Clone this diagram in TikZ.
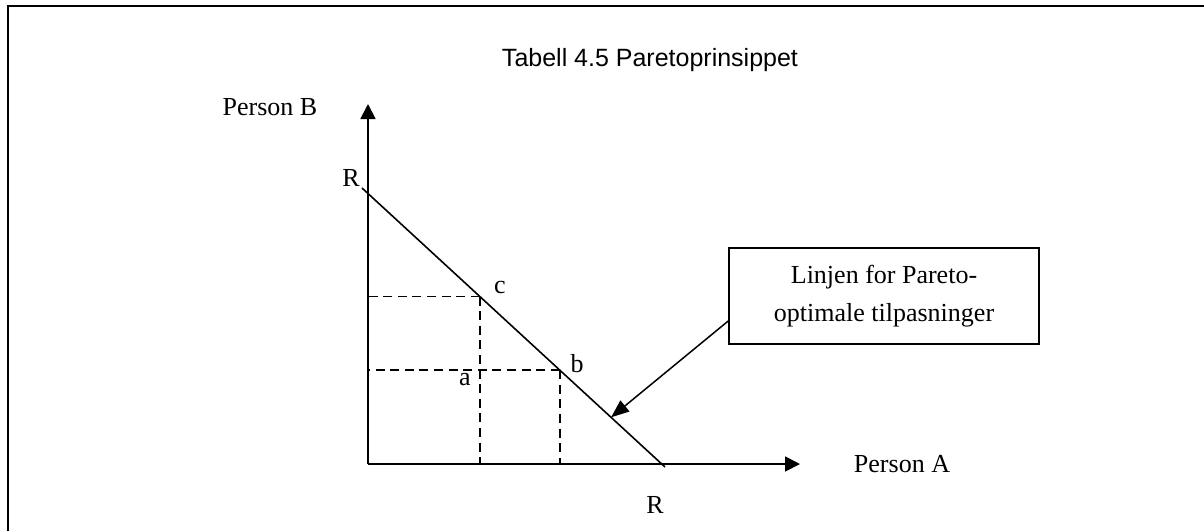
\documentclass[tikz,border=0pt]{standalone}
\usepackage{fontspec}
\setmainfont{Liberation Serif}
\newfontfamily\arialfont{Liberation Sans}
\usetikzlibrary{arrows.meta,calc}
\tikzset{
  lbl/.style={font=\fontsize{13}{19}\selectfont, inner sep=0pt, anchor=base},
  akse/.style={line width=0.9pt, -{Triangle[length=7.5pt,width=7.5pt]}},
  hjelp/.style={line width=0.75pt, dash pattern=on 4.5pt off 2.8pt},
  pil/.style={line width=0.75pt, -{Triangle[length=9pt,width=7pt]}},
}

\begin{document}
\begin{tikzpicture}[x=0.5pt, y=-0.5pt]
\useasboundingbox (0,0) rectangle (1204,531);
\draw[line width=1.1pt] (8,531) -- (8,6) -- (1204,6);
\node[lbl, font=\arialfont\fontsize{12.5}{15}\selectfont] (tittel) at (650,66) {Tabell 4.5 Paretoprinsippet};
% akser
\coordinate (O) at (368,464);
\coordinate (ytopp) at (368,104);
\coordinate (xende) at (800,464);
\draw[akse] (O) -- (ytopp);
\draw[akse] (O) -- (xende);
\node[lbl] (personB) at (270,115) {Person B};
\node[lbl] (personA) at (902,472) {Person A};
% Paretolinjen R--R
\coordinate (Rs) at (362,188);
\coordinate (Re) at (665,467);
\draw[line width=0.8pt] (Rs) -- (Re);
\node[lbl] (Rtopp) at (351,186) {R};
\node[lbl] (Rbunn) at (655,513) {R};
\coordinate (c) at ($(Rs)!0.389!(Re)$);
\coordinate (b) at ($(Rs)!0.653!(Re)$);
\coordinate (tip) at ($(Rs)!0.822!(Re)$);
\draw[hjelp] (c) -- (c -| O) (c) -- (c |- O);
\draw[hjelp] (b) -- (b -| O) (b) -- (b |- O);
\node[lbl] (lblc) at (500,293) {c};
\node[lbl] (lblb) at (577,372) {b};
\node[lbl] (lbla) at (465,385) {a};
% forklaring
\node[draw, line width=0.8pt, lbl, anchor=center, align=center, minimum width=155pt, minimum height=48pt] (boks) at (884,296) {Linjen for Pareto-\\optimale tilpasninger};
\draw[pil] ([yshift=-12.5pt]boks.west) -- (tip);
\end{tikzpicture}
\end{document}
